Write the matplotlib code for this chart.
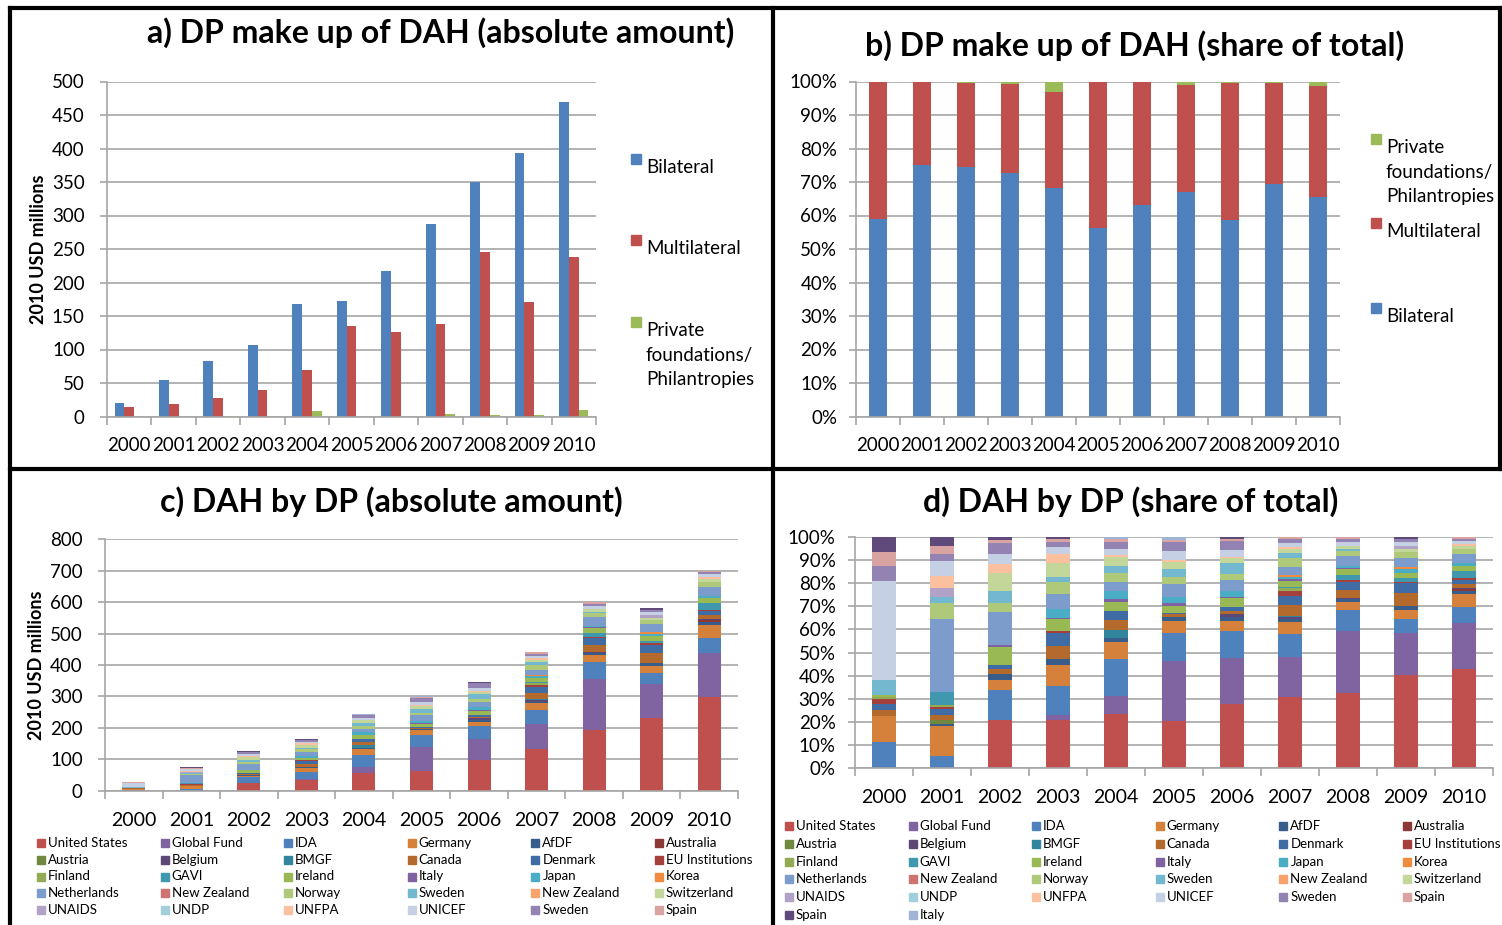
import matplotlib
matplotlib.use('Agg')
import matplotlib.pyplot as plt
import numpy as np
from matplotlib.patches import Rectangle
from matplotlib.lines import Line2D

plt.rcParams['font.family'] = ['Lato', 'DejaVu Sans']

W, H = 1502, 925

years = [str(y) for y in range(2000, 2011)]

# panel a/b: DP make up of DAH, 2010 USD millions
bilateral = [20, 54, 83, 107, 168, 173, 217, 288, 350, 394, 470]
multilateral = [14, 18, 28, 39, 70, 135, 126, 138, 245, 171, 238]
private = [0, 0, 0.5, 1, 8, 0, 0, 4, 2, 2, 10]

# panel c/d: DAH by development partner
donors = ['United States', 'Global Fund', 'IDA', 'Germany', 'AfDF', 'Australia',
          'Austria', 'Belgium', 'BMGF', 'Canada', 'Denmark', 'EU Institutions',
          'Finland', 'GAVI', 'Ireland', 'Italy', 'Japan', 'Korea',
          'Netherlands', 'New Zealand', 'Norway', 'Sweden', 'New Zealand', 'Switzerland',
          'UNAIDS', 'UNDP', 'UNFPA', 'UNICEF', 'Sweden', 'Spain',
          'Spain', 'Italy']
donor_colors = ['#C0504D', '#8064A2', '#4F81BD', '#D5813B', '#385D8A', '#8C3836',
                '#71893F', '#5C4776', '#31859C', '#B4692D', '#3F6CA4', '#A5403D',
                '#93AB55', '#4098AF', '#98B954', '#7E62A1', '#4BACC6', '#EF8B3E',
                '#7C9DCB', '#CD7371', '#AFC97A', '#73B8CE', '#F8A36D', '#C4D79B',
                '#B3A2C7', '#A2CFDC', '#FBC0A0', '#C6D0E4', '#9383B2', '#D9A3A1',
                '#604A7B', '#A0B4D8']

# share of total (%) per year, in donor order
share_2000 = [0, 0, 11.1, 11.5, 0, 0, 0, 0, 0, 2.4, 2.6, 2.1, 1.1, 0, 0.7, 0,
              0, 0, 0, 0, 0, 6.6, 0, 0, 0, 0, 0, 42.9, 6.7, 5.9, 6.4, 0]
share_2001 = [0, 0, 5.1, 13.0, 0.9, 0, 1.7, 0, 0, 2.2, 2.4, 0.9, 1.2, 5.6, 0, 0,
              0, 0, 31.5, 0, 6.8, 2.7, 0, 0, 4.1, 0, 5.1, 6.7, 2.7, 3.6, 3.8, 0]
share_2002 = [20.7, 0, 13.0, 4.4, 2.4, 0, 0, 0, 0, 2.2, 1.9, 0, 0, 0, 7.9, 0.8,
              0, 0, 14.3, 0, 4.0, 5.1, 0, 8.0, 0, 0, 3.6, 4.3, 5.1, 1.1, 1.2, 0]
share_2003 = [20.7, 2.0, 12.9, 9.0, 2.4, 0, 0, 0, 0, 5.8, 5.5, 1.0, 0, 0, 5.1, 0.4,
              3.9, 0, 6.6, 0, 5.5, 2.1, 0, 6.1, 0, 0, 3.6, 3.1, 2.4, 1.0, 0.9, 0]
share_2004 = [23.3, 7.8, 15.9, 7.6, 1.5, 0, 0, 0, 3.7, 4.3, 3.9, 0, 0, 0, 4.1, 1.1,
              3.5, 0, 4.1, 0, 3.9, 3.0, 0, 3.9, 0, 0, 0.7, 2.6, 3.2, 1.0, 0, 0.9]
share_2005 = [20.3, 26.0, 12.3, 5.1, 1.9, 0, 0, 0, 0, 0.9, 0.8, 0, 0, 0, 2.9, 1.4,
              2.6, 0, 5.4, 0, 3.0, 3.5, 0, 3.0, 0, 0, 1.1, 3.9, 4.0, 0.7, 0, 1.2]
share_2006 = [27.8, 20.0, 11.4, 4.3, 1.8, 0, 0, 1.4, 0, 1.5, 1.7, 0, 0, 0, 3.6, 0.7,
              2.5, 0, 4.8, 0, 2.6, 4.6, 0, 2.2, 0, 0, 0.7, 2.9, 4.1, 0.7, 0.7, 0]
share_2007 = [30.5, 17.5, 10.2, 5.2, 1.0, 0, 0, 0.9, 0.7, 4.6, 4.1, 2.0, 1.2, 0.7, 2.6, 0.6,
              1.1, 0.8, 3.6, 0, 3.9, 2.1, 0, 1.5, 0, 0, 0.9, 2.0, 1.4, 0.9, 0, 0]
share_2008 = [32.3, 27.2, 9.0, 3.6, 1.0, 0, 0, 0.7, 0, 3.3, 3.7, 0.7, 0, 2.2, 2.4, 0.7,
              0.8, 0, 4.4, 0, 2.2, 0.7, 0, 1.5, 0, 0, 0, 1.7, 1.0, 0.9, 0, 0]
share_2009 = [40.1, 18.5, 5.9, 4.0, 1.7, 0, 0, 0, 0, 5.5, 4.3, 0.8, 0, 1.4, 2.5, 0,
              1.4, 0.9, 4.2, 0, 2.3, 0, 0, 1.4, 1.5, 0, 0, 1.7, 1.0, 0, 0.9, 0]
share_2010 = [42.7, 20.0, 6.9, 5.9, 1.2, 0.7, 0, 0.5, 0, 1.8, 1.8, 0.7, 0, 3.3, 2.2, 0,
              1.0, 0, 4.1, 0, 2.2, 0, 0, 1.4, 0, 0, 0.7, 1.3, 1.0, 0.6, 0, 0]

# total DAH per year (2010 USD millions)
donor_totals = [29, 76, 126, 163, 244, 301, 346, 440, 600, 580, 700]

BLUE, RED, GREEN = '#4F81BD', '#C0504D', '#9BBB59'
GRID = '#A6A6A6'


def fx(x):
    return x / W


def fy(y):
    return 1 - y / H


def add_ax(l, t, r, b):
    return fig.add_axes([l / W, 1 - b / H, (r - l) / W, (b - t) / H])


def style_ax(ax, ymax, ystep, xfs, yfs, ypad, xpad):
    ax.set_xlim(-0.5, 10.5)
    ax.set_ylim(0, ymax)
    ax.set_yticks(np.arange(0, ymax + 0.001, ystep))
    ax.set_xticks(range(11))
    ax.set_xticklabels(years)
    ax.set_xticks(np.arange(-0.5, 11, 1), minor=True)
    ax.yaxis.grid(True, color=GRID, lw=1.2)
    ax.set_axisbelow(True)
    for s in ['top', 'right']:
        ax.spines[s].set_visible(False)
    for s in ['left', 'bottom']:
        ax.spines[s].set_color(GRID)
        ax.spines[s].set_linewidth(1.2)
    ax.tick_params(axis='x', which='major', length=0, labelsize=xfs, pad=xpad)
    ax.tick_params(axis='x', which='minor', length=6, color=GRID, width=1.2)
    ax.tick_params(axis='y', length=5, color=GRID, width=1.2, labelsize=yfs, pad=ypad)


def side_legend(entries, x, ys, fs=13.5, size=10):
    for (label, color), y in zip(entries, ys):
        fig.add_artist(Rectangle((fx(x), fy(y + size / 2)), size / W, size / H,
                                 transform=fig.transFigure, color=color))
        fig.text(fx(x + size + 5), fy(y), label, fontsize=fs, va='top',
                 ha='left', linespacing=1.55, transform=fig.transFigure)


def grid_legend(labels, colors, x0, y0, dx, dy, ncol, fs=9.5, size=8):
    for k, (label, color) in enumerate(zip(labels, colors)):
        r, c = divmod(k, ncol)
        x = x0 + c * dx
        y = y0 + r * dy
        fig.add_artist(Rectangle((fx(x), fy(y + size / 2)), size / W, size / H,
                                 transform=fig.transFigure, color=color))
        fig.text(fx(x + size + 3), fy(y), label, fontsize=fs, va='center',
                 ha='left', transform=fig.transFigure)


fig = plt.figure(figsize=(W / 100, H / 100), dpi=100)

x = np.arange(11)

# a) absolute amounts, clustered
ax_a = add_ax(107, 81.5, 596, 416.5)
w = 0.22
ax_a.bar(x - w, bilateral, w, color=BLUE)
ax_a.bar(x, multilateral, w, color=RED)
ax_a.bar(x + w, private, w, color=GREEN)
style_ax(ax_a, 500, 50, 13.5, 13.5, 11, 14.5)
ax_a.set_ylabel('2010 USD millions', fontsize=13, fontweight='bold')
ax_a.yaxis.set_label_coords((47 - 107) / 489, 0.5)

# b) share of total, 100% stacked
ab = np.array([bilateral, multilateral, private], dtype=float)
ab_share = ab / ab.sum(axis=0) * 100
ax_b = add_ax(856, 81.5, 1340, 416.5)
bottom = np.zeros(11)
for vals, col in zip(ab_share, [BLUE, RED, GREEN]):
    ax_b.bar(x, vals, 0.4, bottom=bottom, color=col)
    bottom += vals
style_ax(ax_b, 100, 10, 13.5, 13.5, 8.5, 14.5)
ax_b.set_yticklabels([f'{v}%' for v in range(0, 101, 10)])

# c) and d) by development partner
shares = np.array([share_2000, share_2001, share_2002, share_2003, share_2004,
                   share_2005, share_2006, share_2007, share_2008, share_2009,
                   share_2010], dtype=float).T
shares = shares / shares.sum(axis=0) * 100
dah_abs = shares / 100 * np.array(donor_totals)

ax_c = add_ax(105, 539.3, 738, 790.7)
bottom = np.zeros(11)
for vals, col in zip(dah_abs, donor_colors):
    ax_c.bar(x, vals, 0.4, bottom=bottom, color=col)
    bottom += vals
style_ax(ax_c, 800, 100, 14, 13.5, 11, 15.5)
ax_c.set_ylabel('2010 USD millions', fontsize=13, fontweight='bold')
ax_c.yaxis.set_label_coords((45 - 105) / 633, 0.5)

ax_d = add_ax(855, 537.3, 1493, 767.7)
bottom = np.zeros(11)
for vals, col in zip(shares, donor_colors):
    ax_d.bar(x, vals, 0.4, bottom=bottom, color=col)
    bottom += vals
style_ax(ax_d, 100, 10, 14, 13.5, 9, 15)
ax_d.set_yticklabels([f'{v}%' for v in range(0, 101, 10)])

# titles
title_kw = dict(fontsize=23, fontweight='bold', ha='center', va='center')
fig.text(fx(441), fy(33), 'a) DP make up of DAH (absolute amount)', **title_kw)
fig.text(fx(1135), fy(46), 'b) DP make up of DAH (share of total)', **title_kw)
fig.text(fx(391), fy(502), 'c) DAH by DP (absolute amount)', **title_kw)
fig.text(fx(1131), fy(502), 'd) DAH by DP (share of total)', **title_kw)

# legends
pf = 'Private\nfoundations/\nPhilantropies'
side_legend([('Bilateral', BLUE), ('Multilateral', RED), (pf, GREEN)],
            631, [159, 240, 322])
side_legend([(pf, GREEN), ('Multilateral', RED), ('Bilateral', BLUE)],
            1371, [139, 223, 308])
grid_legend(donors[:30], donor_colors[:30], 37, 843, 123.6, 16.75, 6)
grid_legend(donors, donor_colors, 785, 826, 123.6, 17.8, 6)

# panel frames
for (x0, y0, x1, y1) in [(10, 8, 1502, 8), (10, 8, 10, 925), (773, 8, 773, 925),
                         (10, 469, 1502, 469), (1500, 8, 1500, 469)]:
    fig.add_artist(Line2D([fx(x0), fx(x1)], [fy(y0), fy(y1)], color='black',
                          lw=3, transform=fig.transFigure))

fig.savefig('out.png', dpi=100)
